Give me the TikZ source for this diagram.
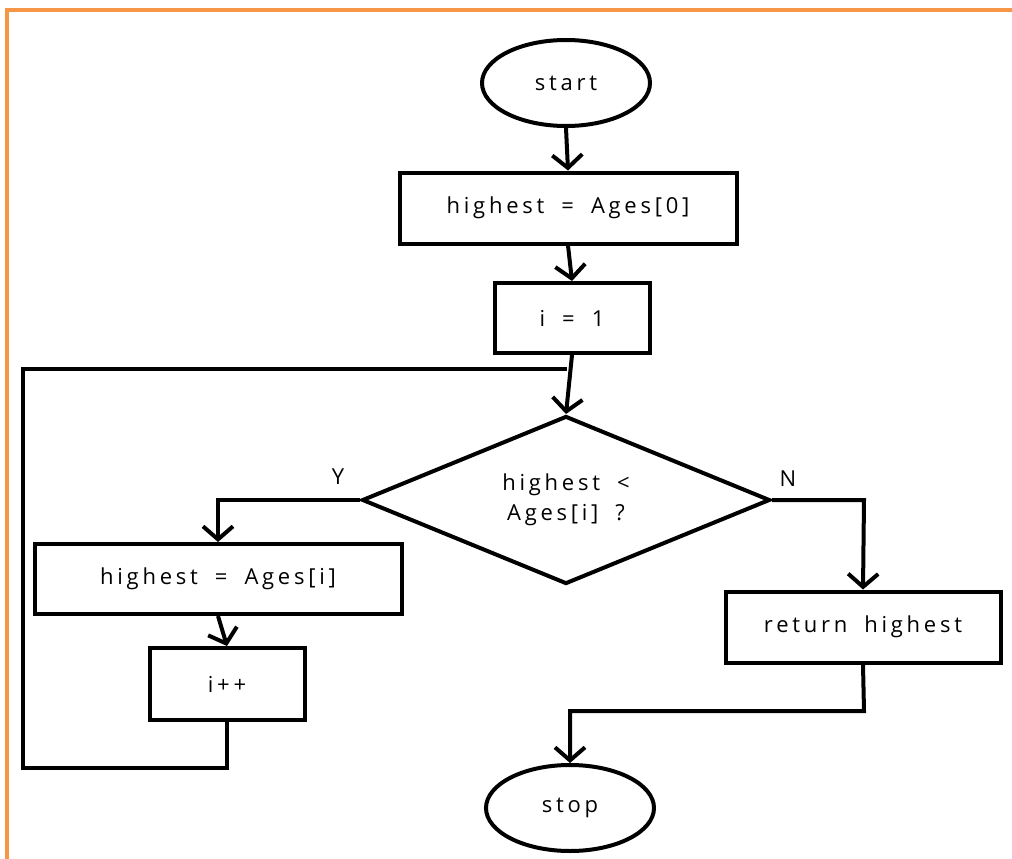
\documentclass[tikz,border=0pt]{standalone}
\usepackage{fontspec}
\setmainfont[LetterSpace=17.0, WordSpace=1.8]{Open Sans}
\usetikzlibrary{shapes.geometric,arrows.meta}
\definecolor{frameorange}{HTML}{F79646}
\begin{document}
\begin{tikzpicture}[x=1pt,y=-1pt,
  line width=4pt, line join=miter,
  every node/.style={font=\fontsize{22}{30}\selectfont, inner sep=0pt},
  procbox/.style={draw, rectangle, line width=4pt},
  terminal/.style={draw, ellipse, line width=4pt, minimum width=168pt, minimum height=86pt},
  decision/.style={draw, diamond, aspect=2.43, line width=4pt, minimum width=408pt, minimum height=168pt, align=center},
  arr/.style={-{Straight Barb[length=13pt,width=30pt]}},
  branch/.style={font=\fontsize{22}{30}\selectfont}]
  \useasboundingbox (0,0) rectangle (1012,859);
  % page frame
  \draw[frameorange, line width=4pt] (7,861) -- (7,10) -- (1014,10);

  % nodes
  \node[terminal] (start) at (566,83) {start};
  \node[procbox, minimum width=337pt, minimum height=71pt] (init) at (568,208) {highest = Ages[0]};
  \node[procbox, minimum width=155pt, minimum height=70pt] (seti) at (572,318) {i = 1};
  \node[decision] (test) at (566,500) {highest <\\Ages[i] ?};
  \node[procbox, minimum width=367pt, minimum height=70pt] (upd) at (218,579) {highest = Ages[i]};
  \node[procbox, minimum width=155pt, minimum height=72pt] (inc) at (227,684) {i++};
  \node[procbox, minimum width=275pt, minimum height=71pt] (ret) at (863,627) {return highest};
  \node[terminal] (stop) at (570,808) {stop};

  % branch labels
  \node[branch] (ylab) at (338,477) {Y};
  \node[branch] (nlab) at (788,479) {N};

  % helper coordinates
  \coordinate (loopbl) at (23,768);
  \coordinate (looptl) at (23,369);
  \coordinate (loopin) at (567,369);
  \coordinate (yturn) at (218,500);
  \coordinate (nturn) at (864,500);
  \coordinate (rturn) at (864,711);
  \coordinate (sturn) at (570,711);

  % connectors
  \draw[arr] (start.south) -- (init.north);
  \draw[arr] (init.south) -- (seti.north);
  \draw[arr] (seti.south) -- (test.north);
  \draw[arr] (test.west) -- (yturn) -- (upd.north);
  \draw[arr] (upd.south) -- (inc.north);
  \draw (inc.south) -- (inc.south |- loopbl) -- (loopbl) -- (looptl) -- (loopin);
  \draw[arr] (test.east) -- (nturn) -- (ret.north);
  \draw[arr] (ret.south) -- (rturn) -- (sturn) -- (stop.north);
\end{tikzpicture}
\end{document}
